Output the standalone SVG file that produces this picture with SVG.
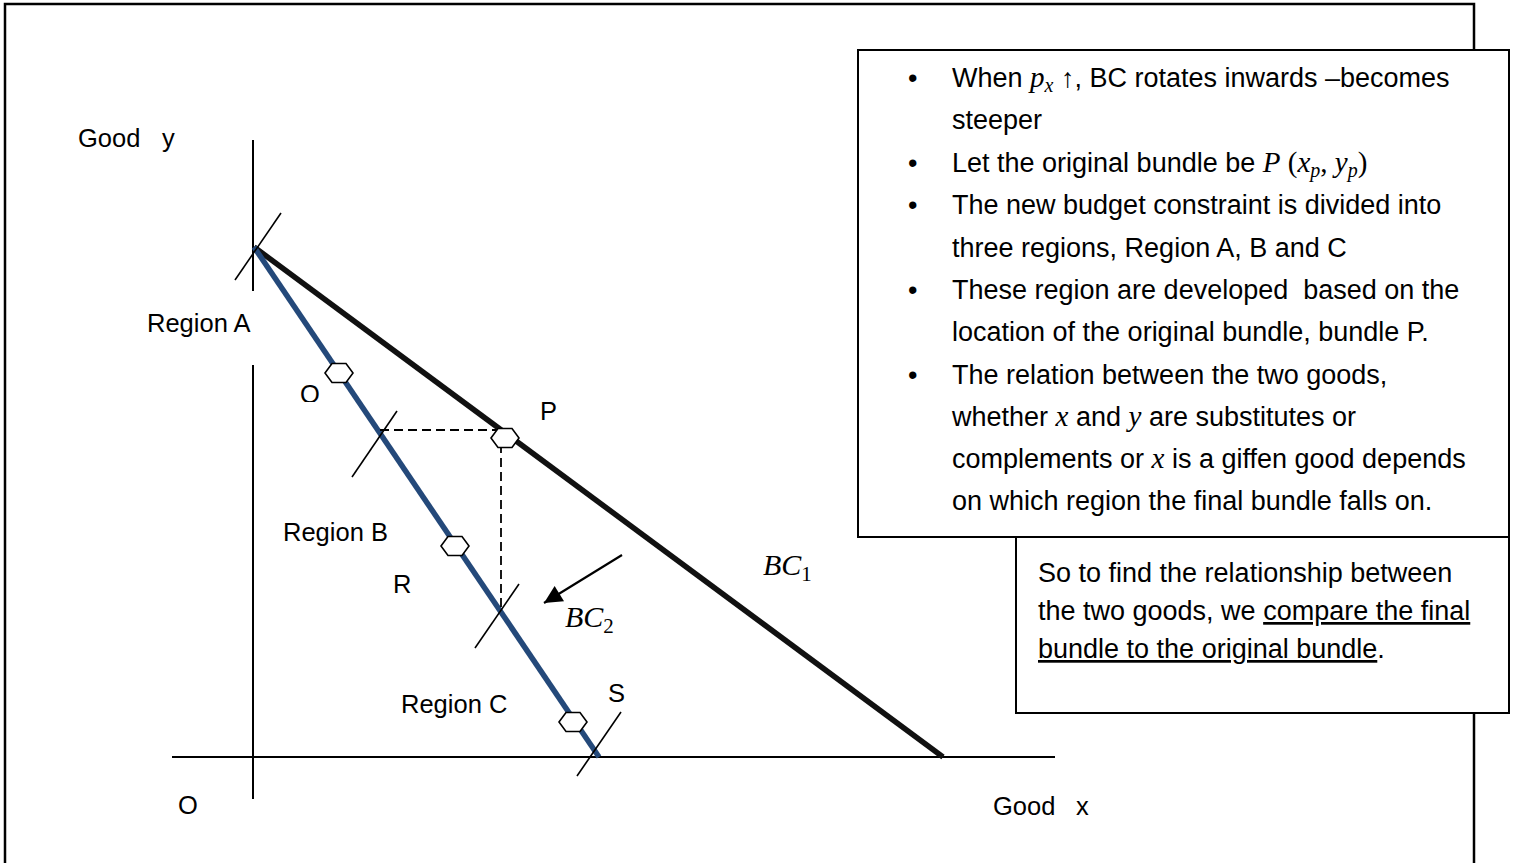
<svg xmlns="http://www.w3.org/2000/svg" width="1519" height="863" viewBox="0 0 1519 863">
<style>
.frame{fill:none;stroke:#000;stroke-width:2.5}
.box{fill:#fff;stroke:#000;stroke-width:2}
.axis{stroke:#000;stroke-width:2;fill:none}
.tick{stroke:#000;stroke-width:1.6;fill:none}
.dash{stroke:#000;stroke-width:1.8;stroke-dasharray:9,5;fill:none}
.hex{fill:#fff;stroke:#000;stroke-width:1.6}
.lbl{font-family:"Liberation Sans",Arial,sans-serif;font-size:25.5px;fill:#000}
.txt{font-family:"Liberation Sans",Arial,sans-serif;font-size:27px;fill:#000}
.m{font-family:"Liberation Serif","Times New Roman",serif;font-style:italic}
.mu{font-family:"Liberation Serif","Times New Roman",serif;font-style:normal}
</style>
<defs>
<marker id="ah" viewBox="0 0 10 10" refX="10" refY="5" markerWidth="20" markerHeight="18" markerUnits="userSpaceOnUse" orient="auto">
<path d="M0,0 L10,5 L0,10 z" fill="#000"/>
</marker>
<clipPath id="qclip"><rect x="290" y="370" width="40" height="32"/></clipPath>
</defs>

<g id="frame">
<polyline class="frame" points="5,863 5,4 1474,4 1474,50"/>
<line class="frame" x1="1474" y1="713" x2="1474" y2="863"/>
</g>

<g id="axes">
<line class="axis" x1="253" y1="140" x2="253" y2="291"/>
<line class="axis" x1="253" y1="365" x2="253" y2="799"/>
<line class="axis" x1="172" y1="757" x2="1055" y2="757"/>
</g>

<g id="connectors">
<line id="bc1" x1="254" y1="247" x2="943" y2="757" stroke="#111" stroke-width="5.5"/>
<line id="bc2" x1="254" y1="247" x2="599" y2="757" stroke="#24497A" stroke-width="5.5"/>
<line class="dash" x1="380" y1="430" x2="503" y2="430"/>
<line class="dash" x1="501" y1="430" x2="501" y2="612"/>
<line class="tick" x1="235" y1="280" x2="281" y2="213"/>
<line class="tick" x1="352" y1="477" x2="397" y2="411"/>
<line class="tick" x1="475" y1="648" x2="519" y2="584"/>
<line class="tick" x1="577" y1="776" x2="621" y2="712"/>
<line x1="622" y1="555" x2="544" y2="603" stroke="#000" stroke-width="2.2" marker-end="url(#ah)"/>
</g>

<g id="bundleQ"><polygon class="hex" points="325,373 332,363.5 346,363.5 353,373 346,382.5 332,382.5"/></g>
<g id="bundleP"><polygon class="hex" points="491,438 498,428.5 512,428.5 519,438 512,447.5 498,447.5"/></g>
<g id="bundleR"><polygon class="hex" points="441,546 448,536.5 462,536.5 469,546 462,555.5 448,555.5"/></g>
<g id="bundleS"><polygon class="hex" points="559,722 566,712.5 580,712.5 587,722 580,731.5 566,731.5"/></g>

<g id="labels">
<text class="lbl" x="78" y="147">Good</text>
<text class="lbl" x="162" y="147">y</text>
<text class="lbl" x="147" y="332">Region A</text>
<text class="lbl" x="300" y="403" clip-path="url(#qclip)">Q</text>
<text class="lbl" x="540" y="420">P</text>
<text class="lbl" x="283" y="541">Region B</text>
<text class="lbl" x="393" y="593">R</text>
<text class="lbl" x="401" y="713">Region C</text>
<text class="lbl" x="608" y="702">S</text>
<text class="lbl" x="178" y="814">O</text>
<text class="lbl" x="993" y="815">Good</text>
<text class="lbl" x="1076" y="815">x</text>
<text x="763" y="575" font-size="30"><tspan class="m">BC</tspan><tspan class="mu" font-size="21" dy="6">1</tspan></text>
<text x="565" y="627" font-size="30"><tspan class="m">BC</tspan><tspan class="mu" font-size="21" dy="6">2</tspan></text>
</g>

<g id="box1">
<rect class="box" x="858" y="50" width="651" height="487"/>
<text class="txt" x="908" y="87">•</text>
<text class="txt" x="952" y="87">When <tspan class="m" font-size="29">p</tspan><tspan class="m" font-size="20" dy="5">x</tspan><tspan dy="-5"> </tspan><tspan class="mu">↑</tspan>, BC rotates inwards –becomes</text>
<text class="txt" x="952" y="129">steeper</text>
<text class="txt" x="908" y="172">•</text>
<text class="txt" x="952" y="172">Let the original bundle be <tspan class="m" font-size="29">P</tspan><tspan class="mu" font-size="29"> (</tspan><tspan class="m" font-size="29">x</tspan><tspan class="m" font-size="20" dy="5">p</tspan><tspan class="mu" font-size="29" dy="-5">, </tspan><tspan class="m" font-size="29">y</tspan><tspan class="m" font-size="20" dy="5">p</tspan><tspan class="mu" font-size="29" dy="-5">)</tspan></text>
<text class="txt" x="908" y="214">•</text>
<text class="txt" x="952" y="214">The new budget constraint is divided into</text>
<text class="txt" x="952" y="257">three regions, Region A, B and C</text>
<text class="txt" x="908" y="299">•</text>
<text class="txt" x="952" y="299" xml:space="preserve">These region are developed  based on the</text>
<text class="txt" x="952" y="341">location of the original bundle, bundle P.</text>
<text class="txt" x="908" y="384">•</text>
<text class="txt" x="952" y="384">The relation between the two goods,</text>
<text class="txt" x="952" y="426">whether <tspan class="m" font-size="29">x</tspan> and <tspan class="m" font-size="29">y</tspan> are substitutes or</text>
<text class="txt" x="952" y="468">complements or <tspan class="m" font-size="29">x</tspan> is a giffen good depends</text>
<text class="txt" x="952" y="510">on which region the final bundle falls on.</text>
</g>

<g id="box2">
<rect class="box" x="1016" y="537" width="493" height="176"/>
<text class="txt" x="1038" y="582">So to find the relationship between</text>
<text class="txt" x="1038" y="620">the two goods, we <tspan text-decoration="underline">compare the final</tspan></text>
<text class="txt" x="1038" y="658"><tspan text-decoration="underline">bundle to the original bundle</tspan>.</text>
</g>
</svg>
